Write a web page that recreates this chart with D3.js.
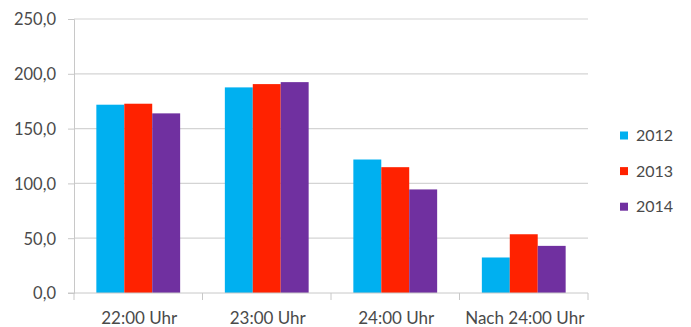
<!DOCTYPE html>
<html>
<head>
<meta charset="utf-8">
<script src="https://cdn.jsdelivr.net/npm/d3@7"></script>
<style>
  html, body { margin: 0; padding: 0; background: #fff; }
  svg { display: block; }
  text { font-family: Lato, "Open Sans", sans-serif; fill: #4a4a4a; }
</style>
</head>
<body>
<svg id="chart" width="691" height="327"></svg>
<script>
const categories = ["22:00 Uhr", "23:00 Uhr", "24:00 Uhr", "Nach 24:00 Uhr"];
const years = ["2012", "2013", "2014"];
const values2012 = [171.8, 187.6, 121.8, 32.4];
const values2013 = [172.7, 190.6, 114.8, 53.6];
const values2014 = [163.9, 192.4, 94.5, 43.0];
const yTicks = [0, 50, 100, 150, 200, 250];
const colors = ["#00b0f0", "#ff2200", "#7030a0"];

const series = [values2012, values2013, values2014];
const svg = d3.select("#chart");
const plotLeft = 74, plotRight = 588, plotTop = 19, plotBottom = 293;

const x = d3.scaleBand().domain(categories).range([plotLeft, plotRight]).paddingInner(0).paddingOuter(0);
const xInner = d3.scaleBand().domain(years).range([0, x.bandwidth()]).paddingInner(0).paddingOuter(0.8);
const y = d3.scaleLinear().domain([0, 250]).range([plotBottom, plotTop]);
const fmt = v => d3.format(".1f")(v).replace(".", ",");

// horizontal gridlines
svg.append("g").selectAll("line").data(yTicks.filter(t => t > 0)).join("line")
  .attr("x1", plotLeft).attr("x2", plotRight)
  .attr("y1", d => y(d)).attr("y2", d => y(d))
  .attr("stroke", "#d4d4d4").attr("stroke-width", 1.2);

// bars
const groups = svg.append("g").selectAll("g").data(categories).join("g")
  .attr("transform", c => `translate(${x(c)},0)`);
groups.selectAll("rect").data((c, i) => years.map((yr, k) => ({ yr, k, v: series[k][i] }))).join("rect")
  .attr("x", d => xInner(d.yr))
  .attr("width", xInner.bandwidth())
  .attr("y", d => y(d.v))
  .attr("height", d => y(0) - y(d.v))
  .attr("fill", d => colors[d.k]);

// y axis
const yAxis = svg.append("g").attr("transform", `translate(${plotLeft},0)`)
  .call(d3.axisLeft(y).tickValues(yTicks).tickFormat(fmt).tickSize(6).tickPadding(12));
yAxis.select(".domain").attr("stroke", "#c8c8c8");
yAxis.selectAll(".tick line").attr("stroke", "#c8c8c8");
yAxis.selectAll("text").style("font-size", "16.5px").attr("fill", "#4a4a4a").attr("dy", "0.36em");

// x axis
const xAxisG = svg.append("g").attr("transform", `translate(0,${plotBottom})`);
xAxisG.append("line").attr("x1", plotLeft - 6).attr("x2", plotRight).attr("stroke", "#c8c8c8");
xAxisG.selectAll("line.sep").data(categories.map(c => x(c)).concat([plotRight])).join("line")
  .attr("class", "sep").attr("x1", d => d).attr("x2", d => d).attr("y1", 0).attr("y2", 7)
  .attr("stroke", "#c8c8c8");
xAxisG.selectAll("text").data(categories).join("text")
  .attr("x", c => x(c) + x.bandwidth() / 2 + 1).attr("y", 31)
  .attr("text-anchor", "middle").style("font-size", "17px").text(c => c);

// legend
const legend = svg.append("g").attr("transform", "translate(620,135.5)");
const li = legend.selectAll("g").data(years).join("g")
  .attr("transform", (d, i) => `translate(0,${i * 35.6})`);
li.append("rect").attr("x", 0).attr("y", -4).attr("width", 8).attr("height", 8)
  .attr("fill", (d, i) => colors[i]);
li.append("text").attr("x", 16).attr("y", 5.5).style("font-size", "16px").text(d => d);
</script>
</body>
</html>
